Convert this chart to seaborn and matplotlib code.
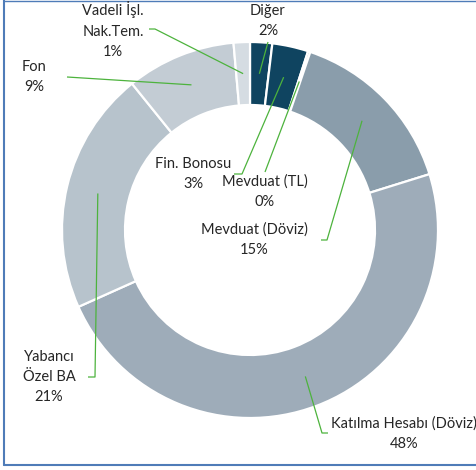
import matplotlib
matplotlib.use("Agg")
import matplotlib.pyplot as plt
import seaborn as sns
import numpy as np

sns.set_theme(style="white")
plt.rcParams['font.family'] = ['Lato', 'DejaVu Sans']

# Portfolio breakdown (percent of total), clockwise from 12 o'clock
categories = ["Diğer", "Fin. Bonosu", "Mevduat (TL)", "Mevduat (Döviz)",
              "Katılma Hesabı (Döviz)", "Yabancı\nÖzel BA", "Fon",
              "Vadeli İşl.\nNak.Tem."]
shares = [1.9, 3.1, 0.2, 15.0, 48.1, 20.9, 9.4, 1.4]

slice_colors = ["#0f4460", "#0f4460", "#0f4460", "#8a9dab",
                "#9eacb9", "#b7c3cc", "#c3ccd4", "#d5dce2"]

W, H = 477, 470
fig = plt.figure(figsize=(W / 100, H / 100), dpi=100)
ax = fig.add_axes([0, 0, 1, 1])


def Y(py):
    return H - py


cx, cy = 250, Y(230)
r_out, ring = 188, 63

wedges, _ = ax.pie(shares, colors=slice_colors, startangle=90, counterclock=False,
                   center=(cx, cy), radius=r_out, frame=True,
                   wedgeprops=dict(width=ring, edgecolor="white", linewidth=1.6))

# label centre and leader-line start points (pixel layout)
layout = {
    "Diğer": ((268, 21), [(268, 42)]),
    "Fin. Bonosu": ((193, 174), [(234, 174), (242, 174)]),
    "Mevduat (TL)": ((265, 192), [(265, 172)]),
    "Mevduat (Döviz)": ((254, 240), [(321, 240), (327, 240)]),
    "Katılma Hesabı (Döviz)": ((404, 434), [(328, 433), (322, 433)]),
    "Yabancı\nÖzel BA": ((49, 377), [(88, 377), (95, 377)]),
    "Fon": ((34, 77), [(67, 77)]),
    "Vadeli İşl.\nNak.Tem.": ((113, 30), [(149, 29), (155, 29)]),
}

r_mid = r_out - ring / 2
for w, name, val in zip(wedges, categories, shares):
    (tx, ty), path = layout[name]
    mid = np.deg2rad((w.theta1 + w.theta2) / 2)
    ax_x = cx + r_mid * np.cos(mid)
    ax_y = cy + r_mid * np.sin(mid)
    xs = [p[0] for p in path] + [ax_x]
    ys = [Y(p[1]) for p in path] + [ax_y]
    ax.plot(xs, ys, color="#4db33d", lw=0.9, solid_capstyle="butt")
    ax.text(tx, Y(ty), f"{name}\n{val:.0f}%", ha="center", va="center",
            fontsize=10.5, color="#262626", linespacing=1.55)

# outer frame
frame_c = "#4f7cb8"
ax.plot([4.5, 4.5], [Y(0), Y(465)], color=frame_c, lw=1.5, clip_on=False)
ax.plot([4, W], [Y(465), Y(465)], color=frame_c, lw=1.5, clip_on=False)
ax.plot([4, W], [Y(0.5), Y(0.5)], color=frame_c, lw=1.0, clip_on=False)

ax.set_xlim(0, W)
ax.set_ylim(0, H)
ax.set_aspect("equal")
ax.axis("off")
fig.savefig("out.png", dpi=100, facecolor="white")
